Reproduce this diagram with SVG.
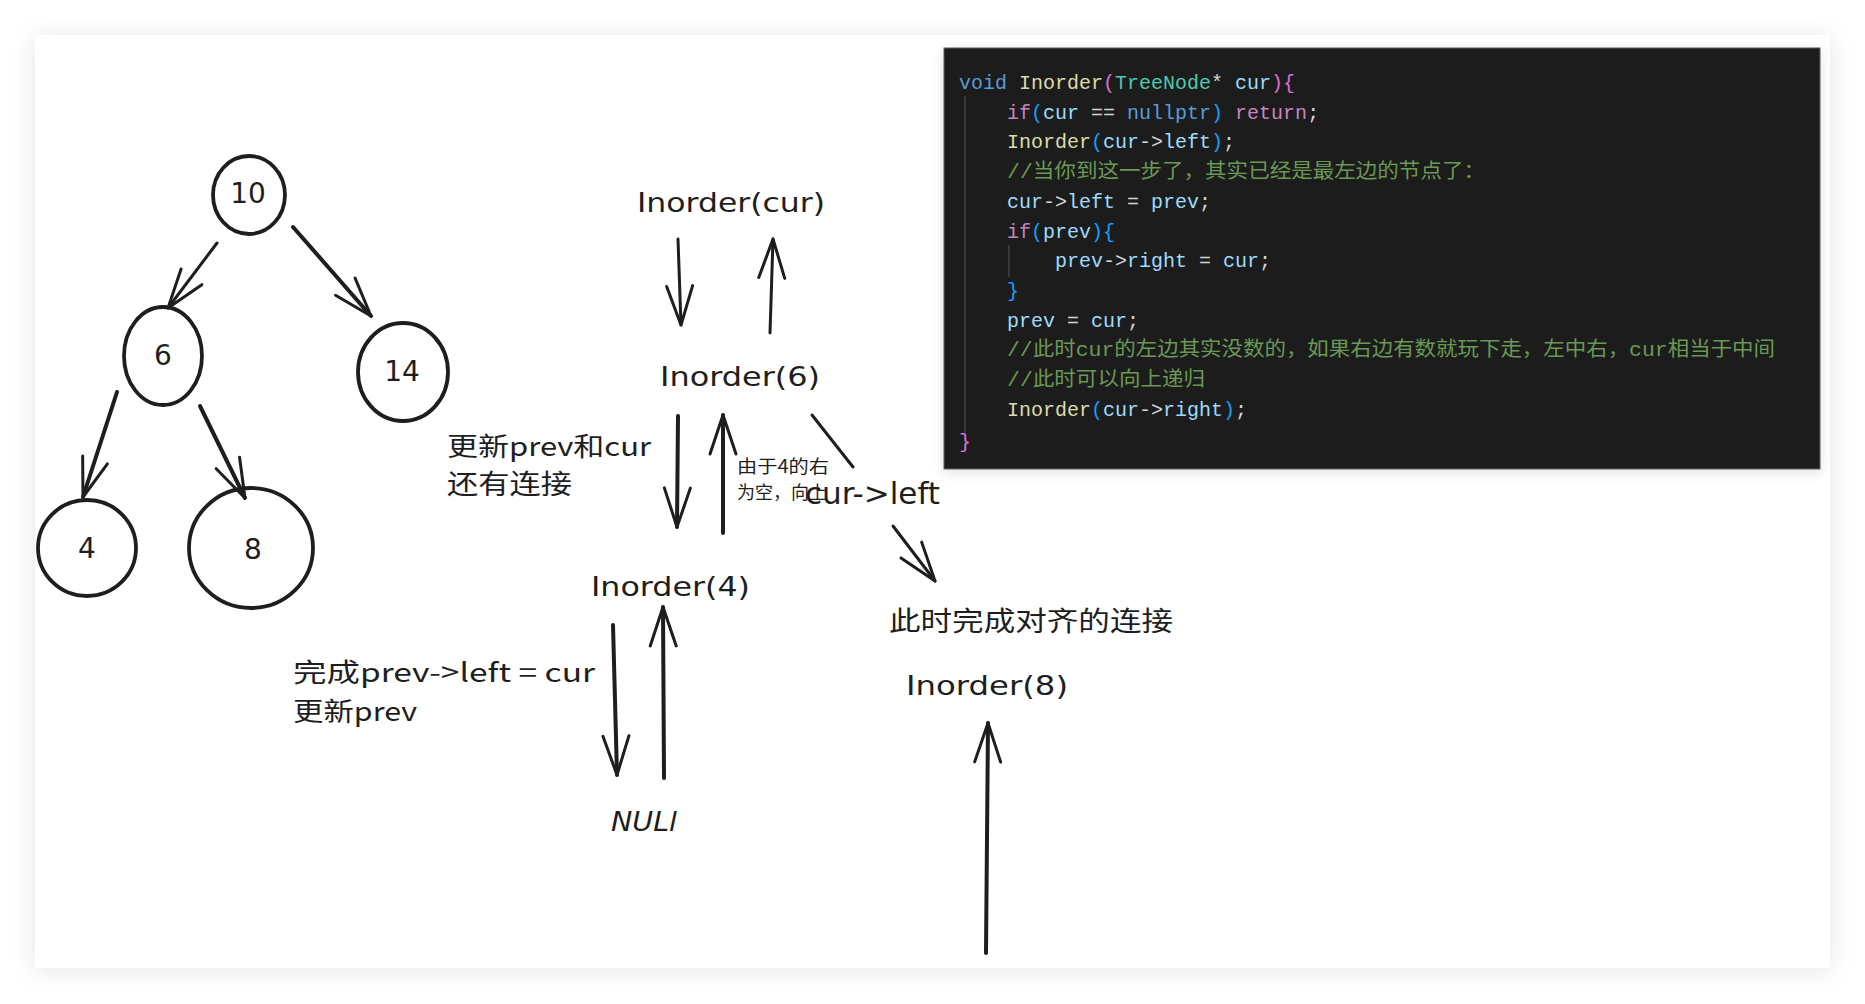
<svg xmlns="http://www.w3.org/2000/svg" width="1865" height="1004" viewBox="0 0 1865 1004">
<defs>
<filter id="shadow" x="-5%" y="-5%" width="110%" height="110%">
<feDropShadow dx="0" dy="2" stdDeviation="12" flood-color="#000" flood-opacity="0.10"/>
</filter>
<filter id="shadow2" x="-5%" y="-5%" width="110%" height="115%">
<feDropShadow dx="0" dy="3" stdDeviation="6" flood-color="#000" flood-opacity="0.12"/>
</filter>
<marker id="arr" markerUnits="userSpaceOnUse" markerWidth="60" markerHeight="60" refX="0" refY="0" orient="auto" overflow="visible">
<path d="M -39 -13 L 0 0 L -39 13" fill="none" stroke="#1e1e1e" stroke-width="3" stroke-linecap="round" stroke-linejoin="round"/>
</marker>
</defs>
<style>
.hand { font-family: "DejaVu Sans", sans-serif; fill: #1e1e1e; }
.cjk { font-family: "Noto Sans CJK SC", sans-serif; fill: #1e1e1e; }
.num { font-family: "DejaVu Sans", sans-serif; fill: #1e1e1e; font-size: 28px; text-anchor: middle; dominant-baseline: central; }
.node { fill: none; stroke: #1e1e1e; stroke-width: 3.8; }
.edge { fill: none; stroke: #1e1e1e; stroke-width: 3; stroke-linecap: round; }
.thick { stroke-width: 4; }
.code { font-family: "Liberation Mono", "Noto Sans CJK SC", monospace; font-size: 20px; fill: #d4d4d4; }
.kw { fill: #569cd6; } .fn { fill: #dcdcaa; } .ty { fill: #4ec9b0; } .var { fill: #9cdcfe; }
.ctl { fill: #c586c0; } .b1 { fill: #da70d6; } .b2 { fill: #179fff; } .cm { fill: #6a9955; }
</style>
<rect x="0" y="0" width="1865" height="1004" fill="#ffffff"/>
<rect x="35" y="35" width="1795" height="933" fill="#ffffff" filter="url(#shadow)"/>

<g id="code-block">
<rect x="944" y="48" width="876" height="421" fill="#1e1e1e" stroke="#5a5a5a" stroke-width="1" filter="url(#shadow2)"/>
<line x1="965" y1="96" x2="965" y2="451" stroke="#404040" stroke-width="1.5"/>
<line x1="1009" y1="245" x2="1009" y2="277" stroke="#404040" stroke-width="1.5"/>
<text class="code" xml:space="preserve">
<tspan x="959" y="88.5"><tspan class="kw">void</tspan> <tspan class="fn">Inorder</tspan><tspan class="b1">(</tspan><tspan class="ty">TreeNode</tspan>* <tspan class="var">cur</tspan><tspan class="b1">){</tspan></tspan>
<tspan x="1007" y="118.5"><tspan class="ctl">if</tspan><tspan class="b2">(</tspan><tspan class="var">cur</tspan> == <tspan class="kw">nullptr</tspan><tspan class="b2">)</tspan> <tspan class="ctl">return</tspan>;</tspan>
<tspan x="1007" y="148"><tspan class="fn">Inorder</tspan><tspan class="b2">(</tspan><tspan class="var">cur</tspan>-&gt;<tspan class="var">left</tspan><tspan class="b2">)</tspan>;</tspan>
<tspan x="1007" y="178" class="cm" textLength="478" lengthAdjust="spacingAndGlyphs">//当你到这一步了，其实已经是最左边的节点了：</tspan>
<tspan x="1007" y="207.5"><tspan class="var">cur</tspan>-&gt;<tspan class="var">left</tspan> = <tspan class="var">prev</tspan>;</tspan>
<tspan x="1007" y="237.5"><tspan class="ctl">if</tspan><tspan class="b2">(</tspan><tspan class="var">prev</tspan><tspan class="b2">){</tspan></tspan>
<tspan x="1055" y="267"><tspan class="var">prev</tspan>-&gt;<tspan class="var">right</tspan> = <tspan class="var">cur</tspan>;</tspan>
<tspan x="1007" y="297" class="b2">}</tspan>
<tspan x="1007" y="326.5"><tspan class="var">prev</tspan> = <tspan class="var">cur</tspan>;</tspan>
<tspan x="1007" y="356" class="cm" textLength="768" lengthAdjust="spacingAndGlyphs">//此时cur的左边其实没数的，如果右边有数就玩下走，左中右，cur相当于中间</tspan>
<tspan x="1007" y="386" class="cm" textLength="198" lengthAdjust="spacingAndGlyphs">//此时可以向上递归</tspan>
<tspan x="1007" y="415.5"><tspan class="fn">Inorder</tspan><tspan class="b2">(</tspan><tspan class="var">cur</tspan>-&gt;<tspan class="var">right</tspan><tspan class="b2">)</tspan>;</tspan>
<tspan x="959" y="447.5" class="b1">}</tspan>
</text>
</g>

<g id="node-10"><ellipse class="node" cx="249" cy="195" rx="36" ry="39"/><text class="num" x="248" y="193">10</text></g>
<g id="node-6"><ellipse class="node" cx="163" cy="356" rx="39" ry="49"/><text class="num" x="163" y="355">6</text></g>
<g id="node-14"><ellipse class="node" cx="403" cy="372" rx="45" ry="49"/><text class="num" x="402" y="371">14</text></g>
<g id="node-4"><ellipse class="node" cx="87" cy="548" rx="49" ry="48"/><text class="num" x="87" y="548">4</text></g>
<g id="node-8"><ellipse class="node" cx="251" cy="548" rx="62" ry="60"/><text class="num" x="253" y="549">8</text></g>

<g id="label-inorder-cur"><text class="hand" x="637" y="212" font-size="27" textLength="188" lengthAdjust="spacingAndGlyphs">Inorder(cur)</text></g>
<g id="label-inorder-6"><text class="hand" x="660" y="386" font-size="27" textLength="160" lengthAdjust="spacingAndGlyphs">Inorder(6)</text></g>
<g id="label-inorder-4"><text class="hand" x="591" y="596" font-size="27" textLength="159" lengthAdjust="spacingAndGlyphs">Inorder(4)</text></g>
<g id="label-inorder-8"><text class="hand" x="906" y="695" font-size="27" textLength="162" lengthAdjust="spacingAndGlyphs">Inorder(8)</text></g>
<g id="label-null"><text class="hand" x="611" y="831" font-size="26" font-style="italic" textLength="66" lengthAdjust="spacingAndGlyphs">NULl</text></g>
<g id="label-update-prev-cur">
<text class="cjk" x="447" y="456" font-size="26" textLength="204" lengthAdjust="spacingAndGlyphs">更新prev和cur</text>
<text class="cjk" x="447" y="494" font-size="27" textLength="125" lengthAdjust="spacingAndGlyphs">还有连接</text>
</g>
<g id="label-right-empty">
<text class="cjk" x="737" y="473" font-size="18" textLength="92" lengthAdjust="spacingAndGlyphs">由于4的右</text>
<text class="cjk" x="737" y="499" font-size="18" textLength="90" lengthAdjust="spacingAndGlyphs">为空，向上</text>
</g>
<g id="label-cur-left"><text class="hand" x="805" y="504" font-size="30" textLength="135" lengthAdjust="spacingAndGlyphs">cur-&gt;left</text></g>
<g id="label-prev-left">
<text class="cjk" x="293" y="682" font-size="26" textLength="302" lengthAdjust="spacingAndGlyphs">完成prev-&gt;left = cur</text>
<text class="cjk" x="293" y="721" font-size="26" textLength="124" lengthAdjust="spacingAndGlyphs">更新prev</text>
</g>
<g id="label-align"><text class="cjk" x="889" y="631" font-size="27" textLength="284" lengthAdjust="spacingAndGlyphs">此时完成对齐的连接</text></g>

<g id="connectors">
<path class="edge" d="M217 243 L168 308" marker-end="url(#arr)"/>
<path class="edge thick" d="M293 227 L371 316" marker-end="url(#arr)"/>
<path class="edge thick" d="M117 392 L83 497" marker-end="url(#arr)"/>
<path class="edge thick" d="M200 406 L245 498" marker-end="url(#arr)"/>
<path class="edge" d="M678 239 L681 325" marker-end="url(#arr)"/>
<path class="edge" d="M770 333 L773 239" marker-end="url(#arr)"/>
<path class="edge thick" d="M678 416 L677 527" marker-end="url(#arr)"/>
<path class="edge thick" d="M723 533 L723 415" marker-end="url(#arr)"/>
<path class="edge" d="M812 415 L853 467"/>
<path class="edge" d="M893 526 L935 581" marker-end="url(#arr)"/>
<path class="edge thick" d="M613 625 L617 775" marker-end="url(#arr)"/>
<path class="edge thick" d="M664 778 L663 607" marker-end="url(#arr)"/>
<path class="edge thick" d="M986 953 L988 723" marker-end="url(#arr)"/>
</g>
</svg>
